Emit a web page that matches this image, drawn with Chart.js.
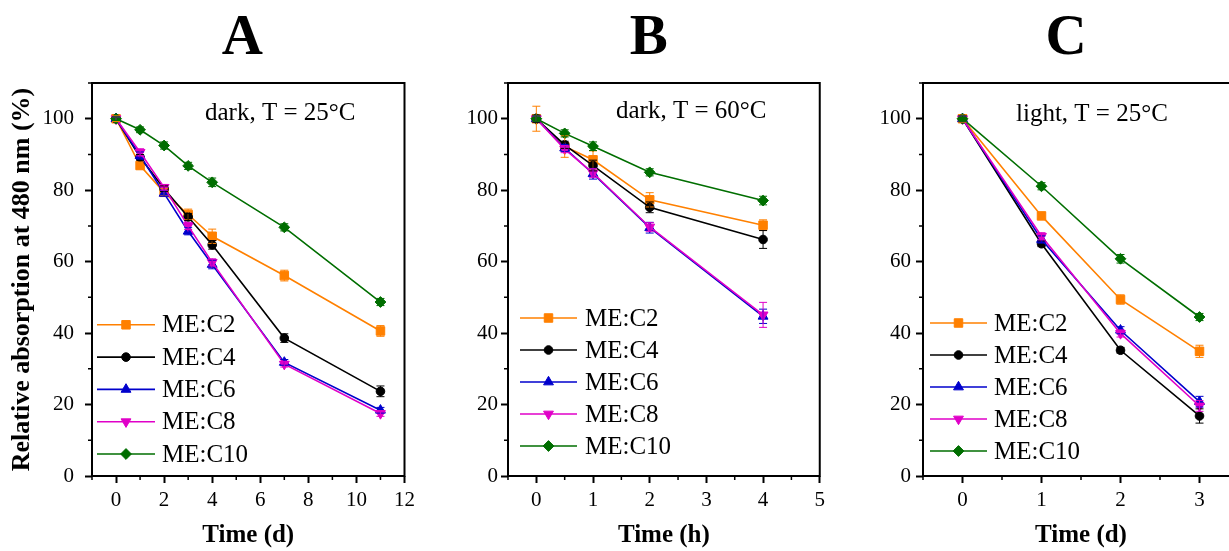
<!DOCTYPE html>
<html>
<head>
<meta charset="utf-8">
<script src="https://cdn.jsdelivr.net/npm/chart.js@4.4.0/dist/chart.umd.min.js"></script>
<style>
  html, body { margin: 0; padding: 0; background: #fff; overflow: hidden; }
  #wrap { position: relative; width: 1229px; height: 551px; overflow: hidden; }
  canvas { position: absolute; top: 0; }
</style>
</head>
<body>
<div id="wrap">
  <canvas id="panel-a" width="420" height="551" style="left:0px"></canvas>
  <canvas id="panel-b" width="410" height="551" style="left:420px"></canvas>
  <canvas id="panel-c" width="420" height="551" style="left:830px"></canvas>
</div>
<script>
// series names + styles
const seriesNames = ["ME:C2", "ME:C4", "ME:C6", "ME:C8", "ME:C10"];
const seriesColors = ["#FF8000", "#000000", "#0000CC", "#E000C8", "#006E00"];
const pointStyles = ["rect", "circle", "triangle", "triangle", "rectRot"];
const pointRotations = [0, 0, 0, 180, 0];
const pointRadii = [6, 4.3, 5.7, 5.7, 5.4];

// tick labels
const yTicks = [0, 20, 40, 60, 80, 100];
const xTicksA = [0, 2, 4, 6, 8, 10, 12];
const xTicksB = [0, 1, 2, 3, 4, 5];
const xTicksC = [0, 1, 2, 3];

// A: dark, 25 C (days)
const timeA = [0, 1, 2, 3, 4, 7, 11];
const valuesA = [
    [100, 86.9, 79.4, 73.2, 67.1, 56.1, 40.6],
    [100, 89.2, 80.4, 72.5, 64.7, 38.6, 23.7],
    [100, 89.7, 79.1, 68.5, 59.2, 31.8, 18.4],
    [100, 90.6, 80.8, 70.0, 59.8, 31.3, 17.5],
    [100, 96.9, 92.5, 86.8, 82.2, 69.6, 48.7],
];
const errorsA = [
    [0.8, 1.0, 1.0, 1.5, 2.0, 1.5, 1.5],
    [0.5, 0.8, 0.8, 1.0, 1.2, 1.2, 1.5],
    [0.5, 1.0, 0.8, 1.0, 1.2, 0.8, 0.8],
    [0.5, 1.0, 0.8, 1.0, 1.0, 0.8, 0.8],
    [0.5, 0.8, 1.0, 1.0, 1.2, 1.0, 1.0],
];

// B: dark, 60 C (hours)
const timeB = [0, 0.5, 1, 2, 4];
const valuesB = [
    [100, 92.2, 88.5, 77.3, 70.2],
    [100, 92.7, 86.9, 75.2, 66.2],
    [100, 91.8, 84.6, 69.5, 44.7],
    [100, 91.5, 84.8, 69.7, 45.1],
    [100, 95.9, 92.3, 85.0, 77.1],
];
const errorsB = [
    [3.5, 3.0, 2.5, 2.0, 1.5],
    [1.0, 1.0, 1.5, 1.5, 2.5],
    [0.8, 1.0, 1.5, 1.5, 2.0],
    [0.8, 1.0, 1.2, 1.2, 3.5],
    [0.8, 1.0, 1.2, 1.0, 1.2],
];

// C: light, 25 C (days)
const timeC = [0, 1, 2, 3];
const valuesC = [
    [100, 72.8, 49.4, 34.9],
    [100, 65.0, 35.2, 16.8],
    [100, 66.2, 40.8, 20.8],
    [100, 67.1, 39.9, 19.6],
    [100, 81.1, 60.8, 44.5],
];
const errorsC = [
    [1.0, 0.8, 1.3, 1.7],
    [0.8, 0.8, 0.8, 2.0],
    [0.8, 1.0, 1.0, 1.5],
    [0.8, 1.0, 1.0, 1.5],
    [0.8, 1.0, 1.2, 1.0],
];

const SERIF = '"Liberation Serif", "Times New Roman", serif';

// error bars, frame, minor ticks, panel texts, legend
const panelDecor = {
    id: "panelDecor",
    afterDatasetsDraw(chart) {
        const { ctx } = chart;
        const yScale = chart.scales.y;
        ctx.save();
        ctx.lineWidth = 1;
        chart.data.datasets.forEach((ds, i) => {
            const meta = chart.getDatasetMeta(i);
            ctx.strokeStyle = ds.borderColor;
            meta.data.forEach((pt, j) => {
                const e = ds.errors[j];
                const v = ds.data[j].y;
                const y1 = yScale.getPixelForValue(v + e);
                const y2 = yScale.getPixelForValue(v - e);
                ctx.beginPath();
                ctx.moveTo(pt.x, y1); ctx.lineTo(pt.x, y2);
                ctx.moveTo(pt.x - 4, y1); ctx.lineTo(pt.x + 4, y1);
                ctx.moveTo(pt.x - 4, y2); ctx.lineTo(pt.x + 4, y2);
                ctx.stroke();
            });
        });
        ctx.restore();
    },
    afterDraw(chart, args, opts) {
        const { ctx, chartArea: a } = chart;
        const { x, y } = chart.scales;
        ctx.save();
        ctx.strokeStyle = "#000";
        ctx.lineWidth = 2;
        ctx.strokeRect(a.left, a.top, a.right - a.left, a.bottom - a.top);

        // minor ticks halfway between majors
        const minor = (scale, step) => {
            const out = [];
            for (let v = scale.ticks[0].value - step / 2; v <= scale.max + 1e-9; v += step) {
                if (v >= scale.min - 1e-9) out.push(v);
            }
            return out;
        };
        ctx.lineWidth = 1.5;
        ctx.beginPath();
        const xs = x.ticks[1].value - x.ticks[0].value;
        minor(x, xs).forEach((v) => {
            const px = x.getPixelForValue(v);
            ctx.moveTo(px, a.bottom); ctx.lineTo(px, a.bottom + 4);
        });
        const ys = y.ticks[1].value - y.ticks[0].value;
        minor(y, ys).forEach((v) => {
            const py = y.getPixelForValue(v);
            ctx.moveTo(a.left, py); ctx.lineTo(a.left - 4, py);
        });
        ctx.stroke();

        // panel letter + condition
        ctx.fillStyle = "#000";
        ctx.textAlign = "center";
        ctx.textBaseline = "alphabetic";
        ctx.font = "bold 57px " + SERIF;
        ctx.fillText(opts.letter, (a.left + a.right) / 2 + opts.letterDx, 54);
        ctx.textAlign = "left";
        ctx.font = "25px " + SERIF;
        ctx.fillText(opts.note, a.left + opts.noteDx, opts.noteY);

        // legend inside plot
        const drawPoint = Chart.helpers && Chart.helpers.drawPoint;
        chart.data.datasets.forEach((ds, i) => {
            const n = chart.data.datasets.length;
            const cy = a.bottom - opts.legendBottom - (n - 1 - i) * opts.legendGap;
            const x0 = a.left + opts.legendX0;
            const x1 = a.left + opts.legendX1;
            ctx.strokeStyle = ds.borderColor;
            ctx.fillStyle = ds.borderColor;
            ctx.lineWidth = 1.6;
            ctx.beginPath();
            ctx.moveTo(x0, cy); ctx.lineTo(x1, cy);
            ctx.stroke();
            if (drawPoint) {
                ctx.lineWidth = 1;
                drawPoint(ctx, {
                    pointStyle: ds.pointStyle,
                    rotation: ds.pointRotation,
                    radius: ds.pointRadius,
                    borderWidth: 1,
                }, (x0 + x1) / 2, cy);
            }
            ctx.fillStyle = "#000";
            ctx.font = "25px " + SERIF;
            ctx.textBaseline = "middle";
            ctx.fillText(ds.label, a.left + opts.legendText, cy + 1);
        });
        ctx.restore();
    },
};

function buildDatasets(times, values, errors) {
    return values.map((row, i) => ({
        label: seriesNames[i],
        data: row.map((v, j) => ({ x: times[j], y: v })),
        errors: errors[i],
        borderColor: seriesColors[i],
        backgroundColor: seriesColors[i],
        borderWidth: 1.6,
        pointStyle: pointStyles[i],
        pointRotation: pointRotations[i],
        pointRadius: pointRadii[i],
        pointBorderWidth: 1,
        tension: 0,
        order: seriesNames.length - 1 - i,
    }));
}

function makePanel(id, p) {
    const ctx = document.getElementById(id);
    new Chart(ctx, {
        type: "line",
        data: { datasets: buildDatasets(p.times, p.values, p.errors) },
        plugins: [panelDecor],
        options: {
            responsive: false,
            animation: false,
            events: [],
            layout: { padding: { left: 0, top: 83, right: p.padRight, bottom: 0 } },
            plugins: {
                legend: { display: false },
                tooltip: { enabled: false },
                panelDecor: p.decor,
            },
            scales: {
                x: {
                    type: "linear",
                    min: p.xMin,
                    max: p.xMax,
                    afterBuildTicks: (s) => { s.ticks = p.xTicks.map((v) => ({ value: v })); },
                    afterFit: (s) => { s.height = 75; },
                    border: { display: false },
                    grid: { drawOnChartArea: false, drawTicks: true, tickLength: 7, tickWidth: 2, tickColor: "#000" },
                    ticks: { color: "#000", padding: 5, maxRotation: 0, font: { family: SERIF, size: 21 } },
                    title: {
                        display: true, text: p.xTitle, color: "#000",
                        padding: { top: 0, bottom: 0 },
                        font: { family: SERIF, size: 25, weight: "bold" },
                    },
                },
                y: {
                    type: "linear",
                    min: 0,
                    max: 110,
                    afterBuildTicks: (s) => { s.ticks = yTicks.map((v) => ({ value: v })); },
                    afterFit: (s) => { s.width = p.yWidth; },
                    border: { display: false },
                    grid: { drawOnChartArea: false, drawTicks: true, tickLength: 7, tickWidth: 2, tickColor: "#000" },
                    ticks: { color: "#000", padding: p.yPad, font: { family: SERIF, size: 21 } },
                    title: {
                        display: !!p.yTitle, text: p.yTitle || "", color: "#000",
                        padding: { top: 7, bottom: 0 },
                        font: { family: SERIF, size: 26, weight: "bold" },
                    },
                },
            },
        },
    });
}

makePanel("panel-a", {
    times: timeA, values: valuesA, errors: errorsA,
    xMin: -1, xMax: 12, xTicks: xTicksA, xTitle: "Time (d)",
    yTitle: "Relative absorption at 480 nm (%)",
    yWidth: 92, yPad: 11, padRight: 13,
    decor: {
        letter: "A", letterDx: -6, note: "dark, T = 25°C", noteDx: 113, noteY: 120,
        legendX0: 5, legendX1: 63, legendText: 70, legendBottom: 22, legendGap: 32.3,
    },
});

makePanel("panel-b", {
    times: timeB, values: valuesB, errors: errorsB,
    xMin: -0.5, xMax: 5, xTicks: xTicksB, xTitle: "Time (h)",
    yWidth: 88, yPad: 3, padRight: 7,
    decor: {
        letter: "B", letterDx: -15, note: "dark, T = 60°C", noteDx: 108, noteY: 118,
        legendX0: 12, legendX1: 69, legendText: 77, legendBottom: 30, legendGap: 32,
    },
});

makePanel("panel-c", {
    times: timeC, values: valuesC, errors: errorsC,
    xMin: -0.5, xMax: 3.5, xTicks: xTicksC, xTitle: "Time (d)",
    yWidth: 93, yPad: 5, padRight: 11,
    decor: {
        letter: "C", letterDx: -15, note: "light, T = 25°C", noteDx: 93, noteY: 121,
        legendX0: 7, legendX1: 64, legendText: 71, legendBottom: 25, legendGap: 32,
    },
});
</script>
</body>
</html>
